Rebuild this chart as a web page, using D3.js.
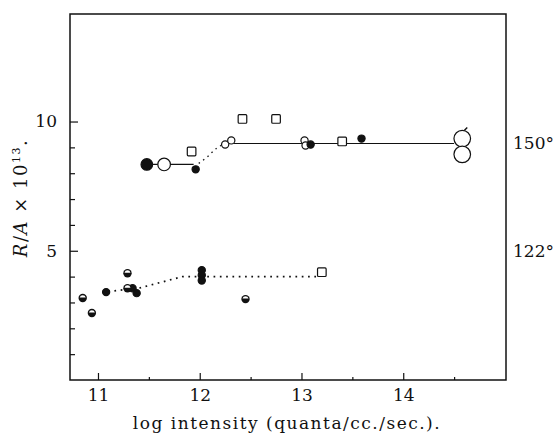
<!DOCTYPE html>
<html>
<head>
<meta charset="utf-8">
<script src="https://cdn.jsdelivr.net/npm/d3@7"></script>
<style>
  body { margin: 0; background: #fff; }
  svg { display: block; }
  text { font-family: "DejaVu Serif", "Liberation Serif", serif; fill: #111; }
</style>
</head>
<body>
<div id="chart"></div>
<script>
// values: [log intensity, R/A x 10^13]
var bigFilled = [[11.48, 8.34]];
var bigOpen = [[11.65, 8.34]];
var hugeOpen = [[14.58, 9.34], [14.58, 8.73]];
var smallFilled = [[11.96, 8.15], [13.09, 9.11], [13.59, 9.34],
                   [11.08, 3.40], [11.34, 3.55], [11.38, 3.36],
                   [12.02, 4.25], [12.02, 4.05], [12.02, 3.85]];
var smallOpen = [[12.25, 9.11], [12.31, 9.27], [13.03, 9.27], [13.04, 9.07]];
var squares = [[11.92, 8.84], [12.42, 10.1], [12.75, 10.1], [13.40, 9.23], [13.20, 4.17]];
var halfFilled = [[10.85, 3.17], [10.94, 2.59], [11.29, 4.13], [11.29, 3.55], [12.45, 3.13]];

// curves drawn through the points
var solid150 = [[[11.48, 8.34], [11.94, 8.34]], [[12.31, 9.15], [14.50, 9.15]]];
var dotted150 = [[11.99, 8.38], [12.08, 8.65], [12.16, 8.95], [12.22, 9.10]];
var dotted122 = [[11.10, 3.42], [11.27, 3.50], [11.40, 3.55], [11.83, 4.00], [13.15, 4.00]];

var xTicks = [11, 12, 13, 14];
var xMinor = [11.5, 12.5, 13.5, 14.5];
var yTicks = [5, 10];
var yMinor = [1, 2, 3, 4, 6, 7, 8, 9];
var sideLabels = [["150°", 9.17], ["122°", 4.99]];

var W = 560, H = 440;
var svg = d3.select("#chart").append("svg")
    .attr("width", W).attr("height", H);

var x = d3.scaleLinear().domain([10.725, 15.01]).range([70, 506]);
var y = d3.scaleLinear().domain([0, 14.16]).range([380, 14]);

// frame
svg.append("rect")
    .attr("x", 70).attr("y", 14)
    .attr("width", 436).attr("height", 366)
    .attr("fill", "none").attr("stroke", "#111").attr("stroke-width", 1.5);

// x axis (ticks point inward)
svg.append("g").attr("transform", "translate(0,380)")
    .call(d3.axisBottom(x).tickValues(xTicks).tickSize(-7).tickPadding(9).tickFormat(d3.format("d")));
svg.append("g").attr("transform", "translate(0,380)")
    .call(d3.axisBottom(x).tickValues(xMinor).tickSize(-3).tickFormat(""));

svg.append("g").attr("transform", "translate(70,0)")
    .call(d3.axisLeft(y).tickValues(yTicks).tickSize(-8).tickPadding(13).tickFormat(d3.format("d")));
svg.append("g").attr("transform", "translate(70,0)")
    .call(d3.axisLeft(y).tickValues(yMinor).tickSize(-5).tickFormat(""));

svg.selectAll(".domain").remove();
svg.selectAll(".tick line").attr("stroke", "#111").attr("stroke-width", 1.2);
svg.selectAll(".tick text")
    .style("font-family", '"DejaVu Serif", serif')
    .style("font-size", "17px").attr("fill", "#111");

// axis titles
svg.append("text")
    .attr("x", 287).attr("y", 429)
    .attr("text-anchor", "middle")
    .style("font-size", "17px")
    .style("letter-spacing", "1.5px")
    .text("log intensity (quanta/cc./sec.).");

var yl = svg.append("text")
    .attr("transform", "translate(27,198) rotate(-90)")
    .attr("text-anchor", "middle")
    .style("font-size", "18px")
    .style("letter-spacing", "1.5px");
yl.append("tspan").style("font-style", "italic").text("R");
yl.append("tspan").text("/");
yl.append("tspan").style("font-style", "italic").text("A");
yl.append("tspan").text(" × 10");
yl.append("tspan").attr("dy", -7).style("font-size", "11px").text("13");
yl.append("tspan").attr("dy", 7).text(".");

svg.selectAll(".side")
    .data(sideLabels)
    .enter().append("text")
    .attr("class", "side")
    .attr("x", 513)
    .attr("y", function (d) { return y(d[1]); })
    .attr("dy", "0.35em")
    .style("font-size", "17px")
    .text(function (d) { return d[0]; });

// lines
var line = d3.line().x(function (d) { return x(d[0]); }).y(function (d) { return y(d[1]); });
var lineCurve = d3.line().curve(d3.curveMonotoneX)
    .x(function (d) { return x(d[0]); }).y(function (d) { return y(d[1]); });

svg.append("g").selectAll("path")
    .data(solid150)
    .enter().append("path")
    .attr("d", line)
    .attr("fill", "none").attr("stroke", "#111").attr("stroke-width", 1.2);

svg.append("path")
    .attr("d", lineCurve(dotted150))
    .attr("fill", "none").attr("stroke", "#111").attr("stroke-width", 1.3)
    .attr("stroke-dasharray", "1.5,4");

svg.append("path")
    .attr("d", line(dotted122))
    .attr("fill", "none").attr("stroke", "#111").attr("stroke-width", 1.7)
    .attr("stroke-dasharray", "1.7,4.6");

// markers
function circles(data, r, fill) {
    svg.append("g").selectAll("circle")
        .data(data)
        .enter().append("circle")
        .attr("cx", function (d) { return x(d[0]); })
        .attr("cy", function (d) { return y(d[1]); })
        .attr("r", r)
        .attr("fill", fill)
        .attr("stroke", "#111").attr("stroke-width", 1.2);
}

circles(hugeOpen, 8.3, "#fff");
// small tick on top of the upper big circle
svg.append("path")
    .attr("d", "M" + (x(hugeOpen[0][0]) + 2) + "," + (y(hugeOpen[0][1]) - 8) + "l3,-3")
    .attr("stroke", "#111").attr("stroke-width", 1.4);

circles(bigFilled, 5.8, "#111");
circles(bigOpen, 6.3, "#fff");
circles(smallOpen, 3.6, "#fff");
circles(smallFilled, 3.6, "#111");

svg.append("g").selectAll("rect")
    .data(squares)
    .enter().append("rect")
    .attr("x", function (d) { return x(d[0]) - 4.3; })
    .attr("y", function (d) { return y(d[1]) - 4.3; })
    .attr("width", 8.6).attr("height", 8.6)
    .attr("rx", 1)
    .attr("fill", "#fff").attr("stroke", "#111").attr("stroke-width", 1.2);

// half filled circles: white band on top, dark lower part
var half = svg.append("g").selectAll("g")
    .data(halfFilled)
    .enter().append("g")
    .attr("transform", function (d) { return "translate(" + x(d[0]) + "," + y(d[1]) + ")"; });
half.append("circle").attr("r", 4.2).attr("fill", "#111");
half.append("path")
    .attr("d", "M-3,-0.6 A3.1,3.1 0 0 1 3,-0.6 Z")
    .attr("fill", "#fff");
</script>
</body>
</html>
